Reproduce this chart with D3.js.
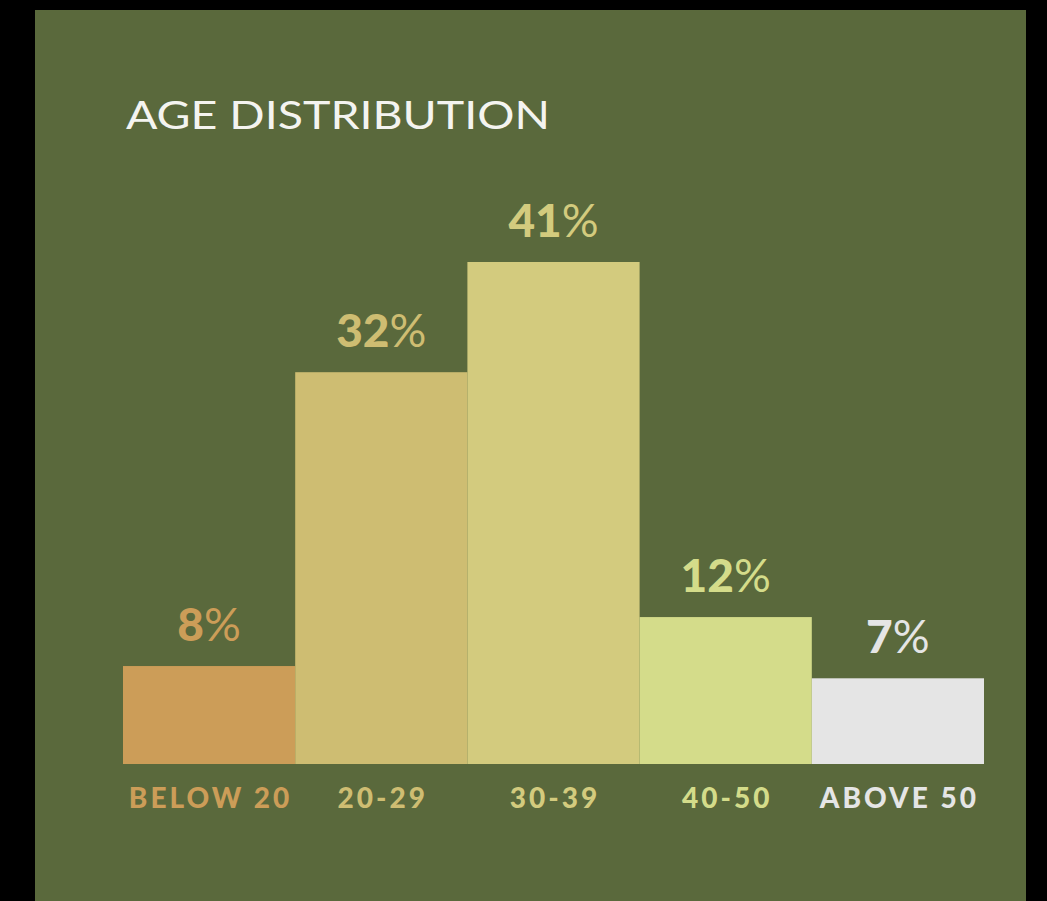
<!DOCTYPE html>
<html>
<head>
<meta charset="utf-8">
<script src="https://cdn.jsdelivr.net/npm/d3@7/dist/d3.min.js"></script>
<style>
  html, body { margin: 0; padding: 0; background: #000; }
  svg { display: block; }
</style>
</head>
<body>
<svg id="chart" width="1047" height="901"></svg>
<script>
const categories = ["BELOW 20", "20-29", "30-39", "40-50", "ABOVE 50"];
const values = [8, 32, 41, 12, 7];
const colors = ["#cc9d58", "#cebd72", "#d3cb7e", "#d4dc8a", "#e5e5e5"];
const title = "AGE DISTRIBUTION";

const svg = d3.select("#chart");
svg.append("rect").attr("x", 0).attr("y", 0).attr("width", 1047).attr("height", 901).attr("fill", "#000");
svg.append("rect").attr("x", 35).attr("y", 10).attr("width", 991).attr("height", 891).attr("fill", "#5a693c");

svg.append("text")
  .attr("x", 126).attr("y", 129)
  .attr("font-family", "Lato, 'Open Sans', sans-serif")
  .attr("font-size", 39)
  .attr("font-weight", 400)
  .attr("fill", "#f4f4f0")
  .attr("textLength", 424)
  .attr("lengthAdjust", "spacingAndGlyphs")
  .text(title);

const baseY = 764;
const x = d3.scaleBand().domain(categories).range([123, 984]).padding(0);
const y = d3.scaleLinear().domain([0, 41]).range([baseY, 262]);

const g = svg.append("g");
g.selectAll("rect.bar").data(values).join("rect")
  .attr("class", "bar")
  .attr("x", (d, i) => x(categories[i]))
  .attr("width", x.bandwidth())
  .attr("y", d => y(d))
  .attr("height", d => baseY - y(d))
  .attr("fill", (d, i) => colors[i]);

const vl = g.selectAll("text.val").data(values).join("text")
  .attr("class", "val")
  .attr("x", (d, i) => x(categories[i]) + x.bandwidth() / 2)
  .attr("y", d => y(d) - 25)
  .attr("text-anchor", "middle")
  .attr("font-family", "Lato, sans-serif")
  .attr("font-size", 46)
  .attr("fill", (d, i) => colors[i]);
vl.append("tspan").attr("font-weight", 900).text(d => d);
vl.append("tspan").attr("font-weight", 400).text("%");

g.selectAll("text.cat").data(categories).join("text")
  .attr("class", "cat")
  .attr("x", d => x(d) + x.bandwidth() / 2 + 1.5)
  .attr("y", 808)
  .attr("text-anchor", "middle")
  .attr("font-family", "Lato, sans-serif")
  .attr("font-size", 28)
  .attr("font-weight", 900)
  .attr("letter-spacing", 3)
  .attr("fill", (d, i) => colors[i])
  .text(d => d);
</script>
</body>
</html>
